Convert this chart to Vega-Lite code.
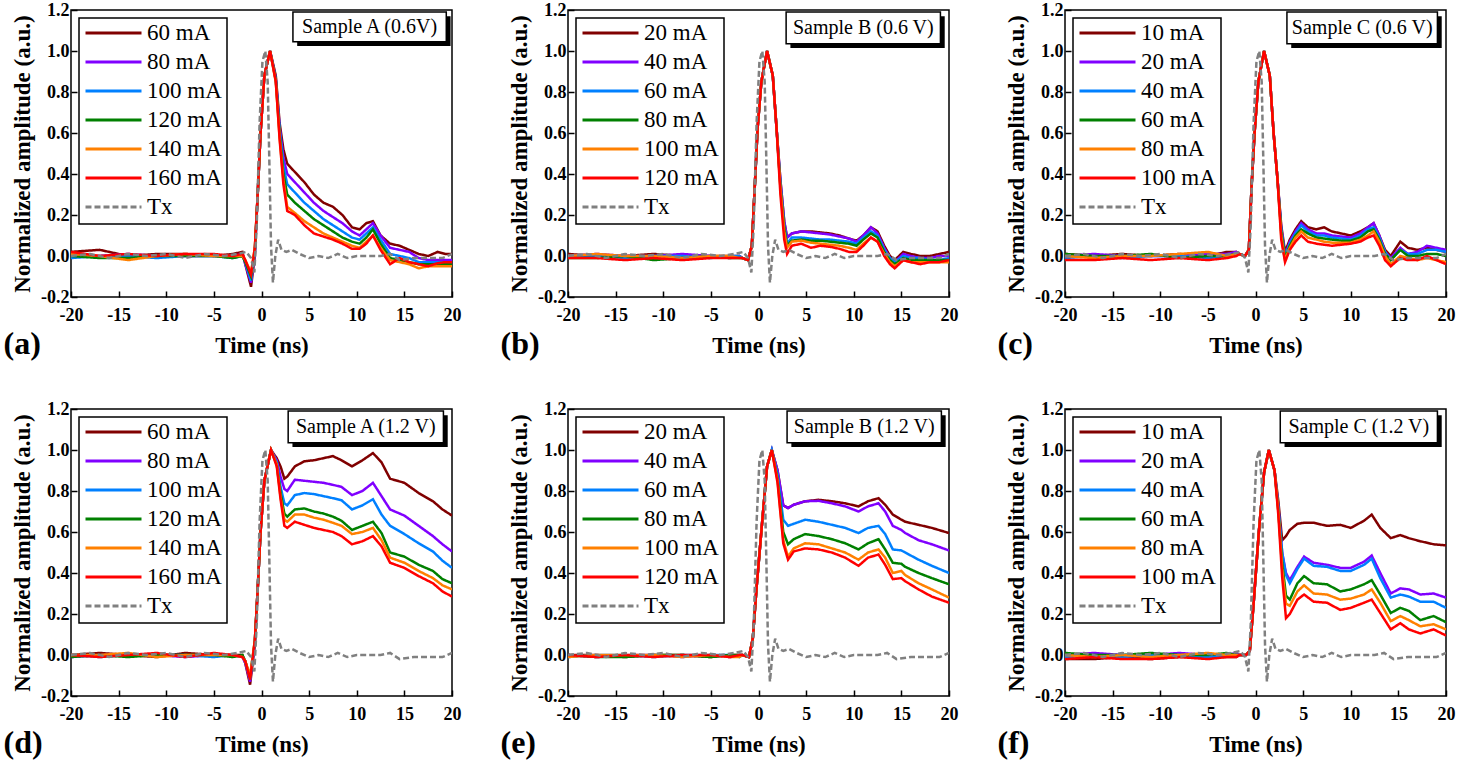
{
"$schema": "https://vega.github.io/schema/vega-lite/v6.json",
"padding": {"left": 2, "top": 0, "right": 2, "bottom": 2},
"background": "white",
"datasets": {
"tx": [
{"s":"Tx","t":-20,"v":0},{"s":"Tx","t":-18,"v":0.01},{"s":"Tx","t":-16,"v":-0.01},{"s":"Tx","t":-14,"v":0.01},{"s":"Tx","t":-12,"v":0},{"s":"Tx","t":-10,"v":0.01},{"s":"Tx","t":-8,"v":-0.01},{"s":"Tx","t":-6,"v":0.01},{"s":"Tx","t":-4,"v":0},{"s":"Tx","t":-2.5,"v":0.01},{"s":"Tx","t":-1.6,"v":0.02},{"s":"Tx","t":-1.1,"v":-0.01},{"s":"Tx","t":-0.75,"v":-0.08},{"s":"Tx","t":-0.5,"v":0.15},{"s":"Tx","t":-0.2,"v":0.65},{"s":"Tx","t":0.1,"v":0.95},{"s":"Tx","t":0.4,"v":1},{"s":"Tx","t":0.65,"v":0.85},{"s":"Tx","t":0.85,"v":0.4},{"s":"Tx","t":1,"v":0.05},{"s":"Tx","t":1.2,"v":-0.13},{"s":"Tx","t":1.45,"v":0},{"s":"Tx","t":1.75,"v":0.08},{"s":"Tx","t":2.1,"v":0.03},{"s":"Tx","t":2.6,"v":0.02},{"s":"Tx","t":3.2,"v":0.03},{"s":"Tx","t":4,"v":0.01},{"s":"Tx","t":5,"v":-0.01},{"s":"Tx","t":6,"v":0},{"s":"Tx","t":7,"v":-0.01},{"s":"Tx","t":8,"v":0.01},{"s":"Tx","t":9,"v":-0.01},{"s":"Tx","t":10,"v":0},{"s":"Tx","t":11,"v":0},{"s":"Tx","t":12.5,"v":0},{"s":"Tx","t":13.5,"v":0.01},{"s":"Tx","t":14.5,"v":-0.02},{"s":"Tx","t":16,"v":-0.01},{"s":"Tx","t":17.5,"v":-0.01},{"s":"Tx","t":19,"v":-0.01},{"s":"Tx","t":20,"v":0.01}
],
"a": [
{"s":"60 mA","t":-20,"v":0.02},{"s":"60 mA","t":-17,"v":0.03},{"s":"60 mA","t":-14,"v":0},{"s":"60 mA","t":-11,"v":0.01},{"s":"60 mA","t":-8,"v":0.01},{"s":"60 mA","t":-5,"v":0},{"s":"60 mA","t":-3,"v":0.01},{"s":"60 mA","t":-2,"v":0.02},
{"s":"60 mA","t":-1.7,"v":-0.04},{"s":"60 mA","t":-1.1,"v":-0.15},{"s":"60 mA","t":-0.7,"v":0},{"s":"60 mA","t":-0.4,"v":0.3},{"s":"60 mA","t":-0.1,"v":0.6},{"s":"60 mA","t":0.3,"v":0.88},{"s":"60 mA","t":0.9,"v":1},{"s":"60 mA","t":1.5,"v":0.88},{"s":"60 mA","t":1.9,"v":0.65},{"s":"60 mA","t":2.3,"v":0.52},{"s":"60 mA","t":2.7,"v":0.45},
{"s":"60 mA","t":3.5,"v":0.41},{"s":"60 mA","t":4.5,"v":0.36},{"s":"60 mA","t":5.5,"v":0.3},{"s":"60 mA","t":6.5,"v":0.26},{"s":"60 mA","t":7.5,"v":0.24},{"s":"60 mA","t":8.5,"v":0.2},{"s":"60 mA","t":9.5,"v":0.14},{"s":"60 mA","t":10.3,"v":0.13},{"s":"60 mA","t":11,"v":0.16},{"s":"60 mA","t":11.7,"v":0.17},{"s":"60 mA","t":12.5,"v":0.1},{"s":"60 mA","t":13.5,"v":0.06},{"s":"60 mA","t":14.5,"v":0.05},{"s":"60 mA","t":15.5,"v":0.03},{"s":"60 mA","t":16.5,"v":0.01},{"s":"60 mA","t":17.5,"v":0},{"s":"60 mA","t":18.5,"v":0.02},{"s":"60 mA","t":19.3,"v":0.01},{"s":"60 mA","t":20,"v":0.01},
{"s":"80 mA","t":-20,"v":0},{"s":"80 mA","t":-17,"v":0},{"s":"80 mA","t":-14,"v":0.01},{"s":"80 mA","t":-11,"v":0},{"s":"80 mA","t":-8,"v":0},{"s":"80 mA","t":-5,"v":0},{"s":"80 mA","t":-3,"v":0},{"s":"80 mA","t":-2,"v":0.01},
{"s":"80 mA","t":-1.7,"v":-0.04},{"s":"80 mA","t":-1.1,"v":-0.13},{"s":"80 mA","t":-0.7,"v":0.01},{"s":"80 mA","t":-0.4,"v":0.3},{"s":"80 mA","t":-0.1,"v":0.6},{"s":"80 mA","t":0.3,"v":0.88},{"s":"80 mA","t":0.9,"v":1},{"s":"80 mA","t":1.5,"v":0.87},{"s":"80 mA","t":1.9,"v":0.63},{"s":"80 mA","t":2.3,"v":0.48},{"s":"80 mA","t":2.7,"v":0.4},
{"s":"80 mA","t":3.5,"v":0.36},{"s":"80 mA","t":4.5,"v":0.31},{"s":"80 mA","t":5.5,"v":0.26},{"s":"80 mA","t":6.5,"v":0.22},{"s":"80 mA","t":7.5,"v":0.19},{"s":"80 mA","t":8.5,"v":0.16},{"s":"80 mA","t":9.5,"v":0.12},{"s":"80 mA","t":10.3,"v":0.1},{"s":"80 mA","t":11,"v":0.13},{"s":"80 mA","t":11.7,"v":0.16},{"s":"80 mA","t":12.5,"v":0.1},{"s":"80 mA","t":13.5,"v":0.04},{"s":"80 mA","t":14.5,"v":0.03},{"s":"80 mA","t":15.5,"v":0.02},{"s":"80 mA","t":16.5,"v":-0.01},{"s":"80 mA","t":17.5,"v":-0.02},{"s":"80 mA","t":18.5,"v":-0.02},{"s":"80 mA","t":19.3,"v":-0.02},{"s":"80 mA","t":20,"v":-0.02},
{"s":"100 mA","t":-20,"v":-0.01},{"s":"100 mA","t":-17,"v":0},{"s":"100 mA","t":-14,"v":0},{"s":"100 mA","t":-11,"v":-0.01},{"s":"100 mA","t":-8,"v":0},{"s":"100 mA","t":-5,"v":0},{"s":"100 mA","t":-3,"v":-0.01},{"s":"100 mA","t":-2,"v":0},
{"s":"100 mA","t":-1.7,"v":-0.03},{"s":"100 mA","t":-1.1,"v":-0.12},{"s":"100 mA","t":-0.7,"v":0.02},{"s":"100 mA","t":-0.4,"v":0.3},{"s":"100 mA","t":-0.1,"v":0.6},{"s":"100 mA","t":0.3,"v":0.88},{"s":"100 mA","t":0.9,"v":1},{"s":"100 mA","t":1.5,"v":0.86},{"s":"100 mA","t":1.9,"v":0.62},{"s":"100 mA","t":2.3,"v":0.44},{"s":"100 mA","t":2.7,"v":0.35},
{"s":"100 mA","t":3.5,"v":0.31},{"s":"100 mA","t":4.5,"v":0.26},{"s":"100 mA","t":5.5,"v":0.22},{"s":"100 mA","t":6.5,"v":0.18},{"s":"100 mA","t":7.5,"v":0.15},{"s":"100 mA","t":8.5,"v":0.12},{"s":"100 mA","t":9.5,"v":0.09},{"s":"100 mA","t":10.3,"v":0.08},{"s":"100 mA","t":11,"v":0.11},{"s":"100 mA","t":11.7,"v":0.14},{"s":"100 mA","t":12.5,"v":0.08},{"s":"100 mA","t":13.5,"v":0.01},{"s":"100 mA","t":14.5,"v":0},{"s":"100 mA","t":15.5,"v":-0.01},{"s":"100 mA","t":16.5,"v":-0.03},{"s":"100 mA","t":17.5,"v":-0.03},{"s":"100 mA","t":18.5,"v":-0.03},{"s":"100 mA","t":19.3,"v":-0.03},{"s":"100 mA","t":20,"v":-0.03},
{"s":"120 mA","t":-20,"v":0},{"s":"120 mA","t":-17,"v":-0.01},{"s":"120 mA","t":-14,"v":-0.01},{"s":"120 mA","t":-11,"v":0},{"s":"120 mA","t":-8,"v":0},{"s":"120 mA","t":-5,"v":0},{"s":"120 mA","t":-3,"v":-0.01},{"s":"120 mA","t":-2,"v":0},
{"s":"120 mA","t":-1.7,"v":-0.03},{"s":"120 mA","t":-1.1,"v":-0.1},{"s":"120 mA","t":-0.7,"v":0.03},{"s":"120 mA","t":-0.4,"v":0.3},{"s":"120 mA","t":-0.1,"v":0.6},{"s":"120 mA","t":0.3,"v":0.88},{"s":"120 mA","t":0.9,"v":1},{"s":"120 mA","t":1.5,"v":0.86},{"s":"120 mA","t":1.9,"v":0.6},{"s":"120 mA","t":2.3,"v":0.4},{"s":"120 mA","t":2.7,"v":0.3},
{"s":"120 mA","t":3.5,"v":0.26},{"s":"120 mA","t":4.5,"v":0.22},{"s":"120 mA","t":5.5,"v":0.18},{"s":"120 mA","t":6.5,"v":0.15},{"s":"120 mA","t":7.5,"v":0.12},{"s":"120 mA","t":8.5,"v":0.09},{"s":"120 mA","t":9.5,"v":0.07},{"s":"120 mA","t":10.3,"v":0.06},{"s":"120 mA","t":11,"v":0.09},{"s":"120 mA","t":11.7,"v":0.13},{"s":"120 mA","t":12.5,"v":0.06},{"s":"120 mA","t":13.5,"v":-0.01},{"s":"120 mA","t":14.5,"v":-0.02},{"s":"120 mA","t":15.5,"v":-0.03},{"s":"120 mA","t":16.5,"v":-0.04},{"s":"120 mA","t":17.5,"v":-0.04},{"s":"120 mA","t":18.5,"v":-0.04},{"s":"120 mA","t":19.3,"v":-0.04},{"s":"120 mA","t":20,"v":-0.04},
{"s":"140 mA","t":-20,"v":0.01},{"s":"140 mA","t":-17,"v":0},{"s":"140 mA","t":-14,"v":-0.02},{"s":"140 mA","t":-11,"v":0},{"s":"140 mA","t":-8,"v":0.01},{"s":"140 mA","t":-5,"v":0},{"s":"140 mA","t":-3,"v":0},{"s":"140 mA","t":-2,"v":0},
{"s":"140 mA","t":-1.7,"v":-0.02},{"s":"140 mA","t":-1.1,"v":-0.08},{"s":"140 mA","t":-0.7,"v":0.04},{"s":"140 mA","t":-0.4,"v":0.3},{"s":"140 mA","t":-0.1,"v":0.6},{"s":"140 mA","t":0.3,"v":0.88},{"s":"140 mA","t":0.9,"v":1},{"s":"140 mA","t":1.5,"v":0.85},{"s":"140 mA","t":1.9,"v":0.58},{"s":"140 mA","t":2.3,"v":0.37},{"s":"140 mA","t":2.7,"v":0.24},
{"s":"140 mA","t":3.5,"v":0.21},{"s":"140 mA","t":4.5,"v":0.17},{"s":"140 mA","t":5.5,"v":0.14},{"s":"140 mA","t":6.5,"v":0.11},{"s":"140 mA","t":7.5,"v":0.09},{"s":"140 mA","t":8.5,"v":0.07},{"s":"140 mA","t":9.5,"v":0.05},{"s":"140 mA","t":10.3,"v":0.04},{"s":"140 mA","t":11,"v":0.07},{"s":"140 mA","t":11.7,"v":0.1},{"s":"140 mA","t":12.5,"v":0.04},{"s":"140 mA","t":13.5,"v":-0.02},{"s":"140 mA","t":14.5,"v":-0.03},{"s":"140 mA","t":15.5,"v":-0.04},{"s":"140 mA","t":16.5,"v":-0.06},{"s":"140 mA","t":17.5,"v":-0.05},{"s":"140 mA","t":18.5,"v":-0.05},{"s":"140 mA","t":19.3,"v":-0.05},{"s":"140 mA","t":20,"v":-0.05},
{"s":"160 mA","t":-20,"v":0.02},{"s":"160 mA","t":-17,"v":0},{"s":"160 mA","t":-14,"v":0.01},{"s":"160 mA","t":-11,"v":0},{"s":"160 mA","t":-8,"v":0.01},{"s":"160 mA","t":-5,"v":0.01},{"s":"160 mA","t":-3,"v":0},{"s":"160 mA","t":-2,"v":0.01},
{"s":"160 mA","t":-1.7,"v":-0.02},{"s":"160 mA","t":-1.1,"v":-0.09},{"s":"160 mA","t":-0.7,"v":0.04},{"s":"160 mA","t":-0.4,"v":0.3},{"s":"160 mA","t":-0.1,"v":0.6},{"s":"160 mA","t":0.3,"v":0.88},{"s":"160 mA","t":0.9,"v":1},{"s":"160 mA","t":1.5,"v":0.85},{"s":"160 mA","t":1.9,"v":0.57},{"s":"160 mA","t":2.3,"v":0.35},{"s":"160 mA","t":2.7,"v":0.22},
{"s":"160 mA","t":3.5,"v":0.2},{"s":"160 mA","t":4.5,"v":0.15},{"s":"160 mA","t":5.5,"v":0.11},{"s":"160 mA","t":6.5,"v":0.095},{"s":"160 mA","t":7.5,"v":0.08},{"s":"160 mA","t":8.5,"v":0.06},{"s":"160 mA","t":9.5,"v":0.035},{"s":"160 mA","t":10.3,"v":0.035},{"s":"160 mA","t":11,"v":0.06},{"s":"160 mA","t":11.7,"v":0.1},{"s":"160 mA","t":12.5,"v":0.03},{"s":"160 mA","t":13.5,"v":-0.04},{"s":"160 mA","t":14.5,"v":-0.01},{"s":"160 mA","t":15.5,"v":-0.03},{"s":"160 mA","t":16.5,"v":-0.04},{"s":"160 mA","t":17.5,"v":-0.05},{"s":"160 mA","t":18.5,"v":-0.035},{"s":"160 mA","t":19.3,"v":-0.03},{"s":"160 mA","t":20,"v":-0.03}
],
"b": [
{"s":"20 mA","t":-20,"v":0.01},{"s":"20 mA","t":-17,"v":0},{"s":"20 mA","t":-14,"v":0},{"s":"20 mA","t":-11,"v":0.01},{"s":"20 mA","t":-8,"v":0},{"s":"20 mA","t":-5,"v":0},{"s":"20 mA","t":-3,"v":0},{"s":"20 mA","t":-2,"v":0},
{"s":"20 mA","t":-1.7,"v":-0.01},{"s":"20 mA","t":-1.1,"v":-0.02},{"s":"20 mA","t":-0.7,"v":0.05},{"s":"20 mA","t":-0.4,"v":0.33},{"s":"20 mA","t":-0.1,"v":0.62},{"s":"20 mA","t":0.3,"v":0.85},{"s":"20 mA","t":0.9,"v":1},{"s":"20 mA","t":1.5,"v":0.88},{"s":"20 mA","t":1.9,"v":0.62},{"s":"20 mA","t":2.3,"v":0.37},{"s":"20 mA","t":2.7,"v":0.17},
{"s":"20 mA","t":3,"v":0.09},{"s":"20 mA","t":3.5,"v":0.11},{"s":"20 mA","t":4.5,"v":0.12},{"s":"20 mA","t":5.5,"v":0.12},{"s":"20 mA","t":6.5,"v":0.115},{"s":"20 mA","t":7.5,"v":0.11},{"s":"20 mA","t":8.5,"v":0.1},{"s":"20 mA","t":9.5,"v":0.085},{"s":"20 mA","t":10.3,"v":0.075},{"s":"20 mA","t":11,"v":0.1},{"s":"20 mA","t":11.8,"v":0.14},{"s":"20 mA","t":12.5,"v":0.12},{"s":"20 mA","t":13.2,"v":0.05},{"s":"20 mA","t":13.8,"v":0},{"s":"20 mA","t":14.3,"v":-0.02},{"s":"20 mA","t":15.2,"v":0.02},{"s":"20 mA","t":16,"v":0.01},{"s":"20 mA","t":17,"v":0},{"s":"20 mA","t":18,"v":0},{"s":"20 mA","t":19,"v":0.01},{"s":"20 mA","t":20,"v":0.02},
{"s":"40 mA","t":-20,"v":0},{"s":"40 mA","t":-17,"v":0.01},{"s":"40 mA","t":-14,"v":0},{"s":"40 mA","t":-11,"v":0},{"s":"40 mA","t":-8,"v":0.01},{"s":"40 mA","t":-5,"v":0},{"s":"40 mA","t":-3,"v":-0.01},{"s":"40 mA","t":-2,"v":0},
{"s":"40 mA","t":-1.7,"v":-0.01},{"s":"40 mA","t":-1.1,"v":-0.02},{"s":"40 mA","t":-0.7,"v":0.05},{"s":"40 mA","t":-0.4,"v":0.33},{"s":"40 mA","t":-0.1,"v":0.62},{"s":"40 mA","t":0.3,"v":0.85},{"s":"40 mA","t":0.9,"v":1},{"s":"40 mA","t":1.5,"v":0.88},{"s":"40 mA","t":1.9,"v":0.62},{"s":"40 mA","t":2.3,"v":0.37},{"s":"40 mA","t":2.7,"v":0.17},
{"s":"40 mA","t":3,"v":0.09},{"s":"40 mA","t":3.5,"v":0.11},{"s":"40 mA","t":4.5,"v":0.12},{"s":"40 mA","t":5.5,"v":0.115},{"s":"40 mA","t":6.5,"v":0.11},{"s":"40 mA","t":7.5,"v":0.105},{"s":"40 mA","t":8.5,"v":0.095},{"s":"40 mA","t":9.5,"v":0.085},{"s":"40 mA","t":10.3,"v":0.07},{"s":"40 mA","t":11,"v":0.1},{"s":"40 mA","t":11.8,"v":0.14},{"s":"40 mA","t":12.5,"v":0.11},{"s":"40 mA","t":13.2,"v":0.04},{"s":"40 mA","t":13.8,"v":-0.01},{"s":"40 mA","t":14.3,"v":-0.03},{"s":"40 mA","t":15.2,"v":0.01},{"s":"40 mA","t":16,"v":0},{"s":"40 mA","t":17,"v":-0.01},{"s":"40 mA","t":18,"v":-0.01},{"s":"40 mA","t":19,"v":0},{"s":"40 mA","t":20,"v":0},
{"s":"60 mA","t":-20,"v":0},{"s":"60 mA","t":-17,"v":0},{"s":"60 mA","t":-14,"v":-0.01},{"s":"60 mA","t":-11,"v":0},{"s":"60 mA","t":-8,"v":0},{"s":"60 mA","t":-5,"v":-0.01},{"s":"60 mA","t":-3,"v":0},{"s":"60 mA","t":-2,"v":0},
{"s":"60 mA","t":-1.7,"v":-0.01},{"s":"60 mA","t":-1.1,"v":-0.02},{"s":"60 mA","t":-0.7,"v":0.05},{"s":"60 mA","t":-0.4,"v":0.33},{"s":"60 mA","t":-0.1,"v":0.62},{"s":"60 mA","t":0.3,"v":0.85},{"s":"60 mA","t":0.9,"v":1},{"s":"60 mA","t":1.5,"v":0.88},{"s":"60 mA","t":1.9,"v":0.62},{"s":"60 mA","t":2.3,"v":0.35},{"s":"60 mA","t":2.7,"v":0.15},
{"s":"60 mA","t":3,"v":0.06},{"s":"60 mA","t":3.5,"v":0.09},{"s":"60 mA","t":4.5,"v":0.09},{"s":"60 mA","t":5.5,"v":0.085},{"s":"60 mA","t":6.5,"v":0.08},{"s":"60 mA","t":7.5,"v":0.08},{"s":"60 mA","t":8.5,"v":0.075},{"s":"60 mA","t":9.5,"v":0.07},{"s":"60 mA","t":10.3,"v":0.06},{"s":"60 mA","t":11,"v":0.09},{"s":"60 mA","t":11.8,"v":0.12},{"s":"60 mA","t":12.5,"v":0.1},{"s":"60 mA","t":13.2,"v":0.03},{"s":"60 mA","t":13.8,"v":-0.01},{"s":"60 mA","t":14.3,"v":-0.03},{"s":"60 mA","t":15.2,"v":0},{"s":"60 mA","t":16,"v":-0.01},{"s":"60 mA","t":17,"v":-0.01},{"s":"60 mA","t":18,"v":-0.02},{"s":"60 mA","t":19,"v":-0.02},{"s":"60 mA","t":20,"v":-0.01},
{"s":"80 mA","t":-20,"v":-0.01},{"s":"80 mA","t":-17,"v":-0.01},{"s":"80 mA","t":-14,"v":0},{"s":"80 mA","t":-11,"v":-0.02},{"s":"80 mA","t":-8,"v":-0.01},{"s":"80 mA","t":-5,"v":0},{"s":"80 mA","t":-3,"v":-0.01},{"s":"80 mA","t":-2,"v":-0.01},
{"s":"80 mA","t":-1.7,"v":-0.01},{"s":"80 mA","t":-1.1,"v":-0.02},{"s":"80 mA","t":-0.7,"v":0.05},{"s":"80 mA","t":-0.4,"v":0.33},{"s":"80 mA","t":-0.1,"v":0.62},{"s":"80 mA","t":0.3,"v":0.85},{"s":"80 mA","t":0.9,"v":1},{"s":"80 mA","t":1.5,"v":0.88},{"s":"80 mA","t":1.9,"v":0.62},{"s":"80 mA","t":2.3,"v":0.34},{"s":"80 mA","t":2.7,"v":0.14},
{"s":"80 mA","t":3,"v":0.05},{"s":"80 mA","t":3.5,"v":0.075},{"s":"80 mA","t":4.5,"v":0.08},{"s":"80 mA","t":5.5,"v":0.075},{"s":"80 mA","t":6.5,"v":0.075},{"s":"80 mA","t":7.5,"v":0.07},{"s":"80 mA","t":8.5,"v":0.065},{"s":"80 mA","t":9.5,"v":0.06},{"s":"80 mA","t":10.3,"v":0.05},{"s":"80 mA","t":11,"v":0.08},{"s":"80 mA","t":11.8,"v":0.11},{"s":"80 mA","t":12.5,"v":0.09},{"s":"80 mA","t":13.2,"v":0.02},{"s":"80 mA","t":13.8,"v":-0.02},{"s":"80 mA","t":14.3,"v":-0.04},{"s":"80 mA","t":15.2,"v":-0.01},{"s":"80 mA","t":16,"v":-0.02},{"s":"80 mA","t":17,"v":-0.02},{"s":"80 mA","t":18,"v":-0.02},{"s":"80 mA","t":19,"v":-0.02},{"s":"80 mA","t":20,"v":-0.02},
{"s":"100 mA","t":-20,"v":0},{"s":"100 mA","t":-17,"v":0.01},{"s":"100 mA","t":-14,"v":0},{"s":"100 mA","t":-11,"v":0},{"s":"100 mA","t":-8,"v":-0.01},{"s":"100 mA","t":-5,"v":0},{"s":"100 mA","t":-3,"v":0},{"s":"100 mA","t":-2,"v":-0.01},
{"s":"100 mA","t":-1.7,"v":-0.01},{"s":"100 mA","t":-1.1,"v":-0.02},{"s":"100 mA","t":-0.7,"v":0.05},{"s":"100 mA","t":-0.4,"v":0.33},{"s":"100 mA","t":-0.1,"v":0.62},{"s":"100 mA","t":0.3,"v":0.85},{"s":"100 mA","t":0.9,"v":1},{"s":"100 mA","t":1.5,"v":0.88},{"s":"100 mA","t":1.9,"v":0.62},{"s":"100 mA","t":2.3,"v":0.33},{"s":"100 mA","t":2.7,"v":0.12},
{"s":"100 mA","t":3,"v":0.04},{"s":"100 mA","t":3.5,"v":0.07},{"s":"100 mA","t":4.5,"v":0.075},{"s":"100 mA","t":5.5,"v":0.065},{"s":"100 mA","t":6.5,"v":0.06},{"s":"100 mA","t":7.5,"v":0.055},{"s":"100 mA","t":8.5,"v":0.05},{"s":"100 mA","t":9.5,"v":0.04},{"s":"100 mA","t":10.3,"v":0.03},{"s":"100 mA","t":11,"v":0.06},{"s":"100 mA","t":11.8,"v":0.09},{"s":"100 mA","t":12.5,"v":0.07},{"s":"100 mA","t":13.2,"v":0.01},{"s":"100 mA","t":13.8,"v":-0.03},{"s":"100 mA","t":14.3,"v":-0.05},{"s":"100 mA","t":15.2,"v":-0.02},{"s":"100 mA","t":16,"v":-0.03},{"s":"100 mA","t":17,"v":-0.03},{"s":"100 mA","t":18,"v":-0.03},{"s":"100 mA","t":19,"v":-0.03},{"s":"100 mA","t":20,"v":-0.03},
{"s":"120 mA","t":-20,"v":-0.01},{"s":"120 mA","t":-17,"v":-0.01},{"s":"120 mA","t":-14,"v":-0.02},{"s":"120 mA","t":-11,"v":-0.01},{"s":"120 mA","t":-8,"v":-0.02},{"s":"120 mA","t":-5,"v":-0.01},{"s":"120 mA","t":-3,"v":-0.01},{"s":"120 mA","t":-2,"v":-0.01},
{"s":"120 mA","t":-1.7,"v":-0.01},{"s":"120 mA","t":-1.1,"v":-0.02},{"s":"120 mA","t":-0.7,"v":0.05},{"s":"120 mA","t":-0.4,"v":0.33},{"s":"120 mA","t":-0.1,"v":0.62},{"s":"120 mA","t":0.3,"v":0.85},{"s":"120 mA","t":0.9,"v":1},{"s":"120 mA","t":1.5,"v":0.88},{"s":"120 mA","t":1.9,"v":0.62},{"s":"120 mA","t":2.3,"v":0.3},{"s":"120 mA","t":2.7,"v":0.08},
{"s":"120 mA","t":3,"v":0.01},{"s":"120 mA","t":3.5,"v":0.05},{"s":"120 mA","t":4.5,"v":0.06},{"s":"120 mA","t":5.5,"v":0.04},{"s":"120 mA","t":6.5,"v":0.05},{"s":"120 mA","t":7.5,"v":0.045},{"s":"120 mA","t":8.5,"v":0.035},{"s":"120 mA","t":9.5,"v":0.02},{"s":"120 mA","t":10.3,"v":0.02},{"s":"120 mA","t":11,"v":0.05},{"s":"120 mA","t":11.8,"v":0.09},{"s":"120 mA","t":12.5,"v":0.07},{"s":"120 mA","t":13.2,"v":0},{"s":"120 mA","t":13.8,"v":-0.04},{"s":"120 mA","t":14.3,"v":-0.06},{"s":"120 mA","t":15.2,"v":-0.02},{"s":"120 mA","t":16,"v":-0.03},{"s":"120 mA","t":17,"v":-0.04},{"s":"120 mA","t":18,"v":-0.03},{"s":"120 mA","t":19,"v":-0.03},{"s":"120 mA","t":20,"v":-0.02}
],
"c": [
{"s":"10 mA","t":-20,"v":0.01},{"s":"10 mA","t":-17,"v":0},{"s":"10 mA","t":-14,"v":0.01},{"s":"10 mA","t":-11,"v":0},{"s":"10 mA","t":-8,"v":0.01},{"s":"10 mA","t":-5,"v":0},{"s":"10 mA","t":-3,"v":0.02},{"s":"10 mA","t":-2,"v":0.02},
{"s":"10 mA","t":-1.7,"v":0.01},{"s":"10 mA","t":-1.1,"v":0},{"s":"10 mA","t":-0.7,"v":0.03},{"s":"10 mA","t":-0.4,"v":0.35},{"s":"10 mA","t":-0.1,"v":0.6},{"s":"10 mA","t":0.3,"v":0.85},{"s":"10 mA","t":0.9,"v":1},{"s":"10 mA","t":1.5,"v":0.88},{"s":"10 mA","t":1.9,"v":0.6},{"s":"10 mA","t":2.3,"v":0.38},{"s":"10 mA","t":2.7,"v":0.15},
{"s":"10 mA","t":3.1,"v":0.02},{"s":"10 mA","t":3.6,"v":0.08},{"s":"10 mA","t":4.2,"v":0.13},{"s":"10 mA","t":4.8,"v":0.17},{"s":"10 mA","t":5.5,"v":0.14},{"s":"10 mA","t":6.4,"v":0.13},{"s":"10 mA","t":7.2,"v":0.14},{"s":"10 mA","t":8,"v":0.12},{"s":"10 mA","t":9,"v":0.11},{"s":"10 mA","t":10,"v":0.1},{"s":"10 mA","t":11,"v":0.12},{"s":"10 mA","t":11.8,"v":0.14},{"s":"10 mA","t":12.4,"v":0.16},{"s":"10 mA","t":13,"v":0.1},{"s":"10 mA","t":13.6,"v":0.03},{"s":"10 mA","t":14.2,"v":0},{"s":"10 mA","t":15.2,"v":0.07},{"s":"10 mA","t":16,"v":0.04},{"s":"10 mA","t":17,"v":0.03},{"s":"10 mA","t":18,"v":0.04},{"s":"10 mA","t":19,"v":0.03},{"s":"10 mA","t":20,"v":0.02},
{"s":"20 mA","t":-20,"v":0},{"s":"20 mA","t":-17,"v":0.01},{"s":"20 mA","t":-14,"v":0},{"s":"20 mA","t":-11,"v":0},{"s":"20 mA","t":-8,"v":0},{"s":"20 mA","t":-5,"v":0.01},{"s":"20 mA","t":-3,"v":0.01},{"s":"20 mA","t":-2,"v":0.02},
{"s":"20 mA","t":-1.7,"v":0.01},{"s":"20 mA","t":-1.1,"v":0},{"s":"20 mA","t":-0.7,"v":0.03},{"s":"20 mA","t":-0.4,"v":0.35},{"s":"20 mA","t":-0.1,"v":0.6},{"s":"20 mA","t":0.3,"v":0.85},{"s":"20 mA","t":0.9,"v":1},{"s":"20 mA","t":1.5,"v":0.88},{"s":"20 mA","t":1.9,"v":0.6},{"s":"20 mA","t":2.3,"v":0.38},{"s":"20 mA","t":2.7,"v":0.14},
{"s":"20 mA","t":3.1,"v":0},{"s":"20 mA","t":3.6,"v":0.07},{"s":"20 mA","t":4.2,"v":0.12},{"s":"20 mA","t":4.8,"v":0.16},{"s":"20 mA","t":5.5,"v":0.13},{"s":"20 mA","t":6.4,"v":0.11},{"s":"20 mA","t":7.2,"v":0.11},{"s":"20 mA","t":8,"v":0.1},{"s":"20 mA","t":9,"v":0.095},{"s":"20 mA","t":10,"v":0.09},{"s":"20 mA","t":11,"v":0.11},{"s":"20 mA","t":11.8,"v":0.14},{"s":"20 mA","t":12.4,"v":0.16},{"s":"20 mA","t":13,"v":0.1},{"s":"20 mA","t":13.6,"v":0.02},{"s":"20 mA","t":14.2,"v":-0.01},{"s":"20 mA","t":15.2,"v":0.04},{"s":"20 mA","t":16,"v":0.01},{"s":"20 mA","t":17,"v":0.02},{"s":"20 mA","t":18,"v":0.05},{"s":"20 mA","t":19,"v":0.04},{"s":"20 mA","t":20,"v":0.03},
{"s":"40 mA","t":-20,"v":-0.01},{"s":"40 mA","t":-17,"v":0},{"s":"40 mA","t":-14,"v":-0.01},{"s":"40 mA","t":-11,"v":0},{"s":"40 mA","t":-8,"v":0},{"s":"40 mA","t":-5,"v":-0.01},{"s":"40 mA","t":-3,"v":0},{"s":"40 mA","t":-2,"v":0.01},
{"s":"40 mA","t":-1.7,"v":0.01},{"s":"40 mA","t":-1.1,"v":0},{"s":"40 mA","t":-0.7,"v":0.03},{"s":"40 mA","t":-0.4,"v":0.35},{"s":"40 mA","t":-0.1,"v":0.6},{"s":"40 mA","t":0.3,"v":0.85},{"s":"40 mA","t":0.9,"v":1},{"s":"40 mA","t":1.5,"v":0.88},{"s":"40 mA","t":1.9,"v":0.6},{"s":"40 mA","t":2.3,"v":0.38},{"s":"40 mA","t":2.7,"v":0.13},
{"s":"40 mA","t":3.1,"v":0},{"s":"40 mA","t":3.6,"v":0.06},{"s":"40 mA","t":4.2,"v":0.11},{"s":"40 mA","t":4.8,"v":0.15},{"s":"40 mA","t":5.5,"v":0.12},{"s":"40 mA","t":6.4,"v":0.1},{"s":"40 mA","t":7.2,"v":0.1},{"s":"40 mA","t":8,"v":0.09},{"s":"40 mA","t":9,"v":0.085},{"s":"40 mA","t":10,"v":0.08},{"s":"40 mA","t":11,"v":0.1},{"s":"40 mA","t":11.8,"v":0.13},{"s":"40 mA","t":12.4,"v":0.14},{"s":"40 mA","t":13,"v":0.09},{"s":"40 mA","t":13.6,"v":0.02},{"s":"40 mA","t":14.2,"v":-0.02},{"s":"40 mA","t":15.2,"v":0.03},{"s":"40 mA","t":16,"v":0.01},{"s":"40 mA","t":17,"v":0.01},{"s":"40 mA","t":18,"v":0.03},{"s":"40 mA","t":19,"v":0.03},{"s":"40 mA","t":20,"v":0.02},
{"s":"60 mA","t":-20,"v":0.01},{"s":"60 mA","t":-17,"v":0},{"s":"60 mA","t":-14,"v":0},{"s":"60 mA","t":-11,"v":0.01},{"s":"60 mA","t":-8,"v":-0.01},{"s":"60 mA","t":-5,"v":0},{"s":"60 mA","t":-3,"v":0},{"s":"60 mA","t":-2,"v":0.01},
{"s":"60 mA","t":-1.7,"v":0.01},{"s":"60 mA","t":-1.1,"v":0},{"s":"60 mA","t":-0.7,"v":0.03},{"s":"60 mA","t":-0.4,"v":0.35},{"s":"60 mA","t":-0.1,"v":0.6},{"s":"60 mA","t":0.3,"v":0.85},{"s":"60 mA","t":0.9,"v":1},{"s":"60 mA","t":1.5,"v":0.88},{"s":"60 mA","t":1.9,"v":0.6},{"s":"60 mA","t":2.3,"v":0.38},{"s":"60 mA","t":2.7,"v":0.12},
{"s":"60 mA","t":3.1,"v":-0.01},{"s":"60 mA","t":3.6,"v":0.05},{"s":"60 mA","t":4.2,"v":0.1},{"s":"60 mA","t":4.8,"v":0.13},{"s":"60 mA","t":5.5,"v":0.11},{"s":"60 mA","t":6.4,"v":0.09},{"s":"60 mA","t":7.2,"v":0.085},{"s":"60 mA","t":8,"v":0.08},{"s":"60 mA","t":9,"v":0.075},{"s":"60 mA","t":10,"v":0.075},{"s":"60 mA","t":11,"v":0.09},{"s":"60 mA","t":11.8,"v":0.12},{"s":"60 mA","t":12.4,"v":0.13},{"s":"60 mA","t":13,"v":0.08},{"s":"60 mA","t":13.6,"v":0.01},{"s":"60 mA","t":14.2,"v":-0.02},{"s":"60 mA","t":15.2,"v":0.03},{"s":"60 mA","t":16,"v":0},{"s":"60 mA","t":17,"v":0},{"s":"60 mA","t":18,"v":0.01},{"s":"60 mA","t":19,"v":0.01},{"s":"60 mA","t":20,"v":0},
{"s":"80 mA","t":-20,"v":0},{"s":"80 mA","t":-17,"v":-0.01},{"s":"80 mA","t":-14,"v":0},{"s":"80 mA","t":-11,"v":0},{"s":"80 mA","t":-8,"v":0.01},{"s":"80 mA","t":-5,"v":0.02},{"s":"80 mA","t":-3,"v":0},{"s":"80 mA","t":-2,"v":0.01},
{"s":"80 mA","t":-1.7,"v":0.01},{"s":"80 mA","t":-1.1,"v":0},{"s":"80 mA","t":-0.7,"v":0.03},{"s":"80 mA","t":-0.4,"v":0.35},{"s":"80 mA","t":-0.1,"v":0.6},{"s":"80 mA","t":0.3,"v":0.85},{"s":"80 mA","t":0.9,"v":1},{"s":"80 mA","t":1.5,"v":0.88},{"s":"80 mA","t":1.9,"v":0.6},{"s":"80 mA","t":2.3,"v":0.38},{"s":"80 mA","t":2.7,"v":0.1},
{"s":"80 mA","t":3.1,"v":-0.02},{"s":"80 mA","t":3.6,"v":0.04},{"s":"80 mA","t":4.2,"v":0.09},{"s":"80 mA","t":4.8,"v":0.12},{"s":"80 mA","t":5.5,"v":0.09},{"s":"80 mA","t":6.4,"v":0.08},{"s":"80 mA","t":7.2,"v":0.07},{"s":"80 mA","t":8,"v":0.065},{"s":"80 mA","t":9,"v":0.065},{"s":"80 mA","t":10,"v":0.065},{"s":"80 mA","t":11,"v":0.08},{"s":"80 mA","t":11.8,"v":0.1},{"s":"80 mA","t":12.4,"v":0.12},{"s":"80 mA","t":13,"v":0.07},{"s":"80 mA","t":13.6,"v":0},{"s":"80 mA","t":14.2,"v":-0.04},{"s":"80 mA","t":15.2,"v":0},{"s":"80 mA","t":16,"v":-0.01},{"s":"80 mA","t":17,"v":-0.02},{"s":"80 mA","t":18,"v":-0.01},{"s":"80 mA","t":19,"v":-0.02},{"s":"80 mA","t":20,"v":-0.03},
{"s":"100 mA","t":-20,"v":-0.02},{"s":"100 mA","t":-17,"v":-0.02},{"s":"100 mA","t":-14,"v":-0.01},{"s":"100 mA","t":-11,"v":-0.02},{"s":"100 mA","t":-8,"v":-0.01},{"s":"100 mA","t":-5,"v":-0.02},{"s":"100 mA","t":-3,"v":-0.01},{"s":"100 mA","t":-2,"v":0},
{"s":"100 mA","t":-1.7,"v":0.01},{"s":"100 mA","t":-1.1,"v":0},{"s":"100 mA","t":-0.7,"v":0.03},{"s":"100 mA","t":-0.4,"v":0.35},{"s":"100 mA","t":-0.1,"v":0.6},{"s":"100 mA","t":0.3,"v":0.85},{"s":"100 mA","t":0.9,"v":1},{"s":"100 mA","t":1.5,"v":0.88},{"s":"100 mA","t":1.9,"v":0.6},{"s":"100 mA","t":2.3,"v":0.38},{"s":"100 mA","t":2.7,"v":0.08},
{"s":"100 mA","t":3.1,"v":-0.03},{"s":"100 mA","t":3.6,"v":0.03},{"s":"100 mA","t":4.2,"v":0.07},{"s":"100 mA","t":4.8,"v":0.1},{"s":"100 mA","t":5.5,"v":0.07},{"s":"100 mA","t":6.4,"v":0.06},{"s":"100 mA","t":7.2,"v":0.055},{"s":"100 mA","t":8,"v":0.05},{"s":"100 mA","t":9,"v":0.055},{"s":"100 mA","t":10,"v":0.06},{"s":"100 mA","t":11,"v":0.07},{"s":"100 mA","t":11.8,"v":0.09},{"s":"100 mA","t":12.4,"v":0.1},{"s":"100 mA","t":13,"v":0.05},{"s":"100 mA","t":13.6,"v":-0.02},{"s":"100 mA","t":14.2,"v":-0.05},{"s":"100 mA","t":15.2,"v":-0.01},{"s":"100 mA","t":16,"v":-0.02},{"s":"100 mA","t":17,"v":-0.02},{"s":"100 mA","t":18,"v":0},{"s":"100 mA","t":19,"v":-0.02},{"s":"100 mA","t":20,"v":-0.04}
],
"d": [
{"s":"60 mA","t":-20,"v":0},{"s":"60 mA","t":-17,"v":0.01},{"s":"60 mA","t":-14,"v":0},{"s":"60 mA","t":-11,"v":-0.01},{"s":"60 mA","t":-8,"v":0.01},{"s":"60 mA","t":-5,"v":0},{"s":"60 mA","t":-3,"v":0},{"s":"60 mA","t":-2,"v":0},
{"s":"60 mA","t":-1.7,"v":-0.04},{"s":"60 mA","t":-1.2,"v":-0.145},{"s":"60 mA","t":-0.7,"v":0.05},{"s":"60 mA","t":-0.4,"v":0.32},{"s":"60 mA","t":-0.1,"v":0.6},{"s":"60 mA","t":0.3,"v":0.85},{"s":"60 mA","t":1,"v":1},{"s":"60 mA","t":1.6,"v":0.96},{"s":"60 mA","t":2,"v":0.92},{"s":"60 mA","t":2.4,"v":0.86},
{"s":"60 mA","t":2.7,"v":0.87},{"s":"60 mA","t":3.5,"v":0.92},{"s":"60 mA","t":4.5,"v":0.945},{"s":"60 mA","t":5.5,"v":0.95},{"s":"60 mA","t":6.5,"v":0.96},{"s":"60 mA","t":7.5,"v":0.97},{"s":"60 mA","t":8.4,"v":0.95},{"s":"60 mA","t":9.5,"v":0.92},{"s":"60 mA","t":10.6,"v":0.95},{"s":"60 mA","t":11.7,"v":0.985},{"s":"60 mA","t":12.6,"v":0.94},{"s":"60 mA","t":13.5,"v":0.86},{"s":"60 mA","t":15,"v":0.84},{"s":"60 mA","t":16.5,"v":0.79},{"s":"60 mA","t":18,"v":0.75},{"s":"60 mA","t":19,"v":0.71},{"s":"60 mA","t":20,"v":0.68},
{"s":"80 mA","t":-20,"v":-0.01},{"s":"80 mA","t":-17,"v":0},{"s":"80 mA","t":-14,"v":0},{"s":"80 mA","t":-11,"v":0},{"s":"80 mA","t":-8,"v":-0.01},{"s":"80 mA","t":-5,"v":0},{"s":"80 mA","t":-3,"v":0},{"s":"80 mA","t":-2,"v":-0.01},
{"s":"80 mA","t":-1.7,"v":-0.04},{"s":"80 mA","t":-1.2,"v":-0.13},{"s":"80 mA","t":-0.7,"v":0.06},{"s":"80 mA","t":-0.4,"v":0.32},{"s":"80 mA","t":-0.1,"v":0.6},{"s":"80 mA","t":0.3,"v":0.85},{"s":"80 mA","t":1,"v":1},{"s":"80 mA","t":1.6,"v":0.95},{"s":"80 mA","t":2,"v":0.87},{"s":"80 mA","t":2.4,"v":0.81},
{"s":"80 mA","t":2.7,"v":0.8},{"s":"80 mA","t":3.5,"v":0.855},{"s":"80 mA","t":4.5,"v":0.85},{"s":"80 mA","t":5.5,"v":0.845},{"s":"80 mA","t":6.5,"v":0.84},{"s":"80 mA","t":7.5,"v":0.83},{"s":"80 mA","t":8.4,"v":0.82},{"s":"80 mA","t":9.5,"v":0.78},{"s":"80 mA","t":10.6,"v":0.8},{"s":"80 mA","t":11.7,"v":0.84},{"s":"80 mA","t":12.6,"v":0.775},{"s":"80 mA","t":13.5,"v":0.71},{"s":"80 mA","t":15,"v":0.68},{"s":"80 mA","t":16.5,"v":0.63},{"s":"80 mA","t":18,"v":0.58},{"s":"80 mA","t":19,"v":0.54},{"s":"80 mA","t":20,"v":0.505},
{"s":"100 mA","t":-20,"v":0},{"s":"100 mA","t":-17,"v":-0.01},{"s":"100 mA","t":-14,"v":0},{"s":"100 mA","t":-11,"v":0},{"s":"100 mA","t":-8,"v":0},{"s":"100 mA","t":-5,"v":-0.01},{"s":"100 mA","t":-3,"v":0},{"s":"100 mA","t":-2,"v":-0.01},
{"s":"100 mA","t":-1.7,"v":-0.03},{"s":"100 mA","t":-1.2,"v":-0.12},{"s":"100 mA","t":-0.7,"v":0.06},{"s":"100 mA","t":-0.4,"v":0.32},{"s":"100 mA","t":-0.1,"v":0.6},{"s":"100 mA","t":0.3,"v":0.85},{"s":"100 mA","t":1,"v":1},{"s":"100 mA","t":1.6,"v":0.94},{"s":"100 mA","t":2,"v":0.82},{"s":"100 mA","t":2.4,"v":0.74},
{"s":"100 mA","t":2.7,"v":0.73},{"s":"100 mA","t":3.5,"v":0.78},{"s":"100 mA","t":4.5,"v":0.79},{"s":"100 mA","t":5.5,"v":0.785},{"s":"100 mA","t":6.5,"v":0.775},{"s":"100 mA","t":7.5,"v":0.765},{"s":"100 mA","t":8.4,"v":0.755},{"s":"100 mA","t":9.5,"v":0.71},{"s":"100 mA","t":10.6,"v":0.73},{"s":"100 mA","t":11.7,"v":0.76},{"s":"100 mA","t":12.6,"v":0.685},{"s":"100 mA","t":13.5,"v":0.63},{"s":"100 mA","t":15,"v":0.59},{"s":"100 mA","t":16.5,"v":0.545},{"s":"100 mA","t":18,"v":0.505},{"s":"100 mA","t":19,"v":0.46},{"s":"100 mA","t":20,"v":0.425},
{"s":"120 mA","t":-20,"v":-0.01},{"s":"120 mA","t":-17,"v":0},{"s":"120 mA","t":-14,"v":-0.01},{"s":"120 mA","t":-11,"v":0},{"s":"120 mA","t":-8,"v":0},{"s":"120 mA","t":-5,"v":0},{"s":"120 mA","t":-3,"v":-0.01},{"s":"120 mA","t":-2,"v":0},
{"s":"120 mA","t":-1.7,"v":-0.03},{"s":"120 mA","t":-1.2,"v":-0.11},{"s":"120 mA","t":-0.7,"v":0.07},{"s":"120 mA","t":-0.4,"v":0.32},{"s":"120 mA","t":-0.1,"v":0.6},{"s":"120 mA","t":0.3,"v":0.85},{"s":"120 mA","t":1,"v":1},{"s":"120 mA","t":1.6,"v":0.93},{"s":"120 mA","t":2,"v":0.79},{"s":"120 mA","t":2.4,"v":0.69},
{"s":"120 mA","t":2.7,"v":0.675},{"s":"120 mA","t":3.5,"v":0.71},{"s":"120 mA","t":4.5,"v":0.715},{"s":"120 mA","t":5.5,"v":0.7},{"s":"120 mA","t":6.5,"v":0.69},{"s":"120 mA","t":7.5,"v":0.675},{"s":"120 mA","t":8.4,"v":0.655},{"s":"120 mA","t":9.5,"v":0.61},{"s":"120 mA","t":10.6,"v":0.63},{"s":"120 mA","t":11.7,"v":0.65},{"s":"120 mA","t":12.6,"v":0.595},{"s":"120 mA","t":13.5,"v":0.5},{"s":"120 mA","t":15,"v":0.48},{"s":"120 mA","t":16.5,"v":0.44},{"s":"120 mA","t":18,"v":0.41},{"s":"120 mA","t":19,"v":0.37},{"s":"120 mA","t":20,"v":0.35},
{"s":"140 mA","t":-20,"v":0},{"s":"140 mA","t":-17,"v":0},{"s":"140 mA","t":-14,"v":0.01},{"s":"140 mA","t":-11,"v":-0.01},{"s":"140 mA","t":-8,"v":0},{"s":"140 mA","t":-5,"v":0},{"s":"140 mA","t":-3,"v":0},{"s":"140 mA","t":-2,"v":-0.01},
{"s":"140 mA","t":-1.7,"v":-0.03},{"s":"140 mA","t":-1.2,"v":-0.1},{"s":"140 mA","t":-0.7,"v":0.07},{"s":"140 mA","t":-0.4,"v":0.32},{"s":"140 mA","t":-0.1,"v":0.6},{"s":"140 mA","t":0.3,"v":0.85},{"s":"140 mA","t":1,"v":1},{"s":"140 mA","t":1.6,"v":0.93},{"s":"140 mA","t":2,"v":0.77},{"s":"140 mA","t":2.4,"v":0.66},
{"s":"140 mA","t":2.7,"v":0.65},{"s":"140 mA","t":3.5,"v":0.685},{"s":"140 mA","t":4.5,"v":0.685},{"s":"140 mA","t":5.5,"v":0.67},{"s":"140 mA","t":6.5,"v":0.66},{"s":"140 mA","t":7.5,"v":0.645},{"s":"140 mA","t":8.4,"v":0.63},{"s":"140 mA","t":9.5,"v":0.59},{"s":"140 mA","t":10.6,"v":0.6},{"s":"140 mA","t":11.7,"v":0.62},{"s":"140 mA","t":12.6,"v":0.56},{"s":"140 mA","t":13.5,"v":0.475},{"s":"140 mA","t":15,"v":0.45},{"s":"140 mA","t":16.5,"v":0.41},{"s":"140 mA","t":18,"v":0.375},{"s":"140 mA","t":19,"v":0.34},{"s":"140 mA","t":20,"v":0.32},
{"s":"160 mA","t":-20,"v":0},{"s":"160 mA","t":-17,"v":-0.01},{"s":"160 mA","t":-14,"v":0},{"s":"160 mA","t":-11,"v":0.01},{"s":"160 mA","t":-8,"v":-0.01},{"s":"160 mA","t":-5,"v":0.01},{"s":"160 mA","t":-3,"v":0},{"s":"160 mA","t":-2,"v":-0.01},
{"s":"160 mA","t":-1.7,"v":-0.03},{"s":"160 mA","t":-1.2,"v":-0.12},{"s":"160 mA","t":-0.7,"v":0.07},{"s":"160 mA","t":-0.4,"v":0.32},{"s":"160 mA","t":-0.1,"v":0.6},{"s":"160 mA","t":0.3,"v":0.85},{"s":"160 mA","t":1,"v":1},{"s":"160 mA","t":1.6,"v":0.92},{"s":"160 mA","t":2,"v":0.76},{"s":"160 mA","t":2.4,"v":0.63},
{"s":"160 mA","t":2.7,"v":0.62},{"s":"160 mA","t":3.5,"v":0.65},{"s":"160 mA","t":4.5,"v":0.635},{"s":"160 mA","t":5.5,"v":0.62},{"s":"160 mA","t":6.5,"v":0.61},{"s":"160 mA","t":7.5,"v":0.6},{"s":"160 mA","t":8.4,"v":0.58},{"s":"160 mA","t":9.5,"v":0.54},{"s":"160 mA","t":10.6,"v":0.555},{"s":"160 mA","t":11.7,"v":0.58},{"s":"160 mA","t":12.6,"v":0.53},{"s":"160 mA","t":13.5,"v":0.45},{"s":"160 mA","t":15,"v":0.425},{"s":"160 mA","t":16.5,"v":0.385},{"s":"160 mA","t":18,"v":0.35},{"s":"160 mA","t":19,"v":0.31},{"s":"160 mA","t":20,"v":0.285}
],
"e": [
{"s":"20 mA","t":-20,"v":0},{"s":"20 mA","t":-17,"v":0},{"s":"20 mA","t":-14,"v":-0.01},{"s":"20 mA","t":-11,"v":0},{"s":"20 mA","t":-8,"v":0},{"s":"20 mA","t":-5,"v":-0.01},{"s":"20 mA","t":-3,"v":0},{"s":"20 mA","t":-2,"v":0},
{"s":"20 mA","t":-1.7,"v":0},{"s":"20 mA","t":-1,"v":-0.01},{"s":"20 mA","t":-0.6,"v":0.08},{"s":"20 mA","t":-0.2,"v":0.33},{"s":"20 mA","t":0.35,"v":0.63},{"s":"20 mA","t":0.9,"v":0.92},{"s":"20 mA","t":1.4,"v":1},{"s":"20 mA","t":2,"v":0.9},{"s":"20 mA","t":2.6,"v":0.73},
{"s":"20 mA","t":3.1,"v":0.717},{"s":"20 mA","t":3.7,"v":0.733},{"s":"20 mA","t":4.9,"v":0.75},{"s":"20 mA","t":6.3,"v":0.757},{"s":"20 mA","t":7.7,"v":0.75},{"s":"20 mA","t":9.1,"v":0.74},{"s":"20 mA","t":10.5,"v":0.725},{"s":"20 mA","t":11.5,"v":0.75},{"s":"20 mA","t":12.6,"v":0.765},{"s":"20 mA","t":13.3,"v":0.733},{"s":"20 mA","t":14.1,"v":0.685},{"s":"20 mA","t":15,"v":0.66},{"s":"20 mA","t":15.4,"v":0.65},{"s":"20 mA","t":16.8,"v":0.635},{"s":"20 mA","t":18.2,"v":0.62},{"s":"20 mA","t":20,"v":0.595},
{"s":"40 mA","t":-20,"v":0},{"s":"40 mA","t":-17,"v":-0.01},{"s":"40 mA","t":-14,"v":0},{"s":"40 mA","t":-11,"v":0},{"s":"40 mA","t":-8,"v":-0.01},{"s":"40 mA","t":-5,"v":0},{"s":"40 mA","t":-3,"v":-0.01},{"s":"40 mA","t":-2,"v":0},
{"s":"40 mA","t":-1.7,"v":0},{"s":"40 mA","t":-1,"v":-0.01},{"s":"40 mA","t":-0.6,"v":0.08},{"s":"40 mA","t":-0.2,"v":0.33},{"s":"40 mA","t":0.35,"v":0.63},{"s":"40 mA","t":0.9,"v":0.92},{"s":"40 mA","t":1.4,"v":1},{"s":"40 mA","t":2,"v":0.9},{"s":"40 mA","t":2.6,"v":0.73},
{"s":"40 mA","t":3.1,"v":0.717},{"s":"40 mA","t":3.7,"v":0.733},{"s":"40 mA","t":4.9,"v":0.75},{"s":"40 mA","t":6.3,"v":0.752},{"s":"40 mA","t":7.7,"v":0.74},{"s":"40 mA","t":9.1,"v":0.725},{"s":"40 mA","t":10.5,"v":0.7},{"s":"40 mA","t":11.5,"v":0.725},{"s":"40 mA","t":12.6,"v":0.74},{"s":"40 mA","t":13.3,"v":0.7},{"s":"40 mA","t":14.1,"v":0.63},{"s":"40 mA","t":15,"v":0.61},{"s":"40 mA","t":15.4,"v":0.595},{"s":"40 mA","t":16.8,"v":0.56},{"s":"40 mA","t":18.2,"v":0.54},{"s":"40 mA","t":20,"v":0.51},
{"s":"60 mA","t":-20,"v":-0.01},{"s":"60 mA","t":-17,"v":0},{"s":"60 mA","t":-14,"v":0},{"s":"60 mA","t":-11,"v":-0.01},{"s":"60 mA","t":-8,"v":0},{"s":"60 mA","t":-5,"v":0},{"s":"60 mA","t":-3,"v":0},{"s":"60 mA","t":-2,"v":-0.01},
{"s":"60 mA","t":-1.7,"v":0},{"s":"60 mA","t":-1,"v":-0.01},{"s":"60 mA","t":-0.6,"v":0.08},{"s":"60 mA","t":-0.2,"v":0.33},{"s":"60 mA","t":0.35,"v":0.63},{"s":"60 mA","t":0.9,"v":0.92},{"s":"60 mA","t":1.4,"v":1},{"s":"60 mA","t":2,"v":0.88},{"s":"60 mA","t":2.6,"v":0.66},
{"s":"60 mA","t":3.1,"v":0.63},{"s":"60 mA","t":3.7,"v":0.64},{"s":"60 mA","t":4.9,"v":0.66},{"s":"60 mA","t":6.3,"v":0.65},{"s":"60 mA","t":7.7,"v":0.635},{"s":"60 mA","t":9.1,"v":0.62},{"s":"60 mA","t":10.5,"v":0.595},{"s":"60 mA","t":11.5,"v":0.62},{"s":"60 mA","t":12.6,"v":0.63},{"s":"60 mA","t":13.3,"v":0.59},{"s":"60 mA","t":14.1,"v":0.515},{"s":"60 mA","t":15,"v":0.51},{"s":"60 mA","t":15.4,"v":0.5},{"s":"60 mA","t":16.8,"v":0.465},{"s":"60 mA","t":18.2,"v":0.435},{"s":"60 mA","t":20,"v":0.4},
{"s":"80 mA","t":-20,"v":0},{"s":"80 mA","t":-17,"v":-0.01},{"s":"80 mA","t":-14,"v":-0.01},{"s":"80 mA","t":-11,"v":0},{"s":"80 mA","t":-8,"v":0},{"s":"80 mA","t":-5,"v":-0.01},{"s":"80 mA","t":-3,"v":0},{"s":"80 mA","t":-2,"v":0},
{"s":"80 mA","t":-1.7,"v":0},{"s":"80 mA","t":-1,"v":-0.01},{"s":"80 mA","t":-0.6,"v":0.08},{"s":"80 mA","t":-0.2,"v":0.33},{"s":"80 mA","t":0.35,"v":0.63},{"s":"80 mA","t":0.9,"v":0.92},{"s":"80 mA","t":1.4,"v":1},{"s":"80 mA","t":2,"v":0.86},{"s":"80 mA","t":2.6,"v":0.6},
{"s":"80 mA","t":3.1,"v":0.54},{"s":"80 mA","t":3.7,"v":0.565},{"s":"80 mA","t":4.9,"v":0.59},{"s":"80 mA","t":6.3,"v":0.58},{"s":"80 mA","t":7.7,"v":0.565},{"s":"80 mA","t":9.1,"v":0.545},{"s":"80 mA","t":10.5,"v":0.515},{"s":"80 mA","t":11.5,"v":0.545},{"s":"80 mA","t":12.6,"v":0.565},{"s":"80 mA","t":13.3,"v":0.515},{"s":"80 mA","t":14.1,"v":0.45},{"s":"80 mA","t":15,"v":0.445},{"s":"80 mA","t":15.4,"v":0.43},{"s":"80 mA","t":16.8,"v":0.4},{"s":"80 mA","t":18.2,"v":0.375},{"s":"80 mA","t":20,"v":0.345},
{"s":"100 mA","t":-20,"v":-0.01},{"s":"100 mA","t":-17,"v":0},{"s":"100 mA","t":-14,"v":0},{"s":"100 mA","t":-11,"v":0},{"s":"100 mA","t":-8,"v":-0.01},{"s":"100 mA","t":-5,"v":0},{"s":"100 mA","t":-3,"v":-0.01},{"s":"100 mA","t":-2,"v":-0.01},
{"s":"100 mA","t":-1.7,"v":0},{"s":"100 mA","t":-1,"v":-0.01},{"s":"100 mA","t":-0.6,"v":0.08},{"s":"100 mA","t":-0.2,"v":0.33},{"s":"100 mA","t":0.35,"v":0.63},{"s":"100 mA","t":0.9,"v":0.92},{"s":"100 mA","t":1.4,"v":1},{"s":"100 mA","t":2,"v":0.85},{"s":"100 mA","t":2.6,"v":0.56},
{"s":"100 mA","t":3.1,"v":0.48},{"s":"100 mA","t":3.7,"v":0.52},{"s":"100 mA","t":4.9,"v":0.545},{"s":"100 mA","t":6.3,"v":0.54},{"s":"100 mA","t":7.7,"v":0.52},{"s":"100 mA","t":9.1,"v":0.5},{"s":"100 mA","t":10.5,"v":0.465},{"s":"100 mA","t":11.5,"v":0.5},{"s":"100 mA","t":12.6,"v":0.515},{"s":"100 mA","t":13.3,"v":0.475},{"s":"100 mA","t":14.1,"v":0.4},{"s":"100 mA","t":15,"v":0.41},{"s":"100 mA","t":15.4,"v":0.39},{"s":"100 mA","t":16.8,"v":0.35},{"s":"100 mA","t":18.2,"v":0.32},{"s":"100 mA","t":20,"v":0.28},
{"s":"120 mA","t":-20,"v":0},{"s":"120 mA","t":-17,"v":-0.01},{"s":"120 mA","t":-14,"v":0},{"s":"120 mA","t":-11,"v":-0.01},{"s":"120 mA","t":-8,"v":0},{"s":"120 mA","t":-5,"v":0},{"s":"120 mA","t":-3,"v":-0.01},{"s":"120 mA","t":-2,"v":0},
{"s":"120 mA","t":-1.7,"v":0},{"s":"120 mA","t":-1,"v":-0.01},{"s":"120 mA","t":-0.6,"v":0.08},{"s":"120 mA","t":-0.2,"v":0.33},{"s":"120 mA","t":0.35,"v":0.63},{"s":"120 mA","t":0.9,"v":0.92},{"s":"120 mA","t":1.4,"v":1},{"s":"120 mA","t":2,"v":0.84},{"s":"120 mA","t":2.6,"v":0.545},
{"s":"120 mA","t":3.1,"v":0.465},{"s":"120 mA","t":3.7,"v":0.505},{"s":"120 mA","t":4.9,"v":0.52},{"s":"120 mA","t":6.3,"v":0.515},{"s":"120 mA","t":7.7,"v":0.5},{"s":"120 mA","t":9.1,"v":0.475},{"s":"120 mA","t":10.5,"v":0.435},{"s":"120 mA","t":11.5,"v":0.475},{"s":"120 mA","t":12.6,"v":0.49},{"s":"120 mA","t":13.3,"v":0.44},{"s":"120 mA","t":14.1,"v":0.37},{"s":"120 mA","t":15,"v":0.375},{"s":"120 mA","t":15.4,"v":0.36},{"s":"120 mA","t":16.8,"v":0.32},{"s":"120 mA","t":18.2,"v":0.285},{"s":"120 mA","t":20,"v":0.255}
],
"f": [
{"s":"10 mA","t":-20,"v":-0.02},{"s":"10 mA","t":-17,"v":-0.02},{"s":"10 mA","t":-14,"v":-0.01},{"s":"10 mA","t":-11,"v":-0.02},{"s":"10 mA","t":-8,"v":-0.01},{"s":"10 mA","t":-5,"v":-0.01},{"s":"10 mA","t":-3,"v":-0.01},{"s":"10 mA","t":-2,"v":-0.01},
{"s":"10 mA","t":-1.7,"v":0},{"s":"10 mA","t":-1,"v":0},{"s":"10 mA","t":-0.6,"v":0.02},{"s":"10 mA","t":-0.2,"v":0.25},{"s":"10 mA","t":0.35,"v":0.6},{"s":"10 mA","t":0.9,"v":0.89},{"s":"10 mA","t":1.4,"v":1},{"s":"10 mA","t":2,"v":0.9},{"s":"10 mA","t":2.4,"v":0.75},{"s":"10 mA","t":2.8,"v":0.56},
{"s":"10 mA","t":3.2,"v":0.58},{"s":"10 mA","t":3.6,"v":0.61},{"s":"10 mA","t":4.4,"v":0.64},{"s":"10 mA","t":5.1,"v":0.645},{"s":"10 mA","t":6.1,"v":0.645},{"s":"10 mA","t":7.5,"v":0.63},{"s":"10 mA","t":8.9,"v":0.635},{"s":"10 mA","t":10,"v":0.62},{"s":"10 mA","t":11.4,"v":0.655},{"s":"10 mA","t":12.2,"v":0.685},{"s":"10 mA","t":13.1,"v":0.62},{"s":"10 mA","t":14.2,"v":0.57},{"s":"10 mA","t":15.2,"v":0.585},{"s":"10 mA","t":16.1,"v":0.57},{"s":"10 mA","t":17.3,"v":0.555},{"s":"10 mA","t":18.7,"v":0.54},{"s":"10 mA","t":20,"v":0.535},
{"s":"20 mA","t":-20,"v":0},{"s":"20 mA","t":-17,"v":0.01},{"s":"20 mA","t":-14,"v":0},{"s":"20 mA","t":-11,"v":0},{"s":"20 mA","t":-8,"v":0.01},{"s":"20 mA","t":-5,"v":0},{"s":"20 mA","t":-3,"v":0},{"s":"20 mA","t":-2,"v":0.01},
{"s":"20 mA","t":-1.7,"v":0},{"s":"20 mA","t":-1,"v":0},{"s":"20 mA","t":-0.6,"v":0.02},{"s":"20 mA","t":-0.2,"v":0.25},{"s":"20 mA","t":0.35,"v":0.6},{"s":"20 mA","t":0.9,"v":0.89},{"s":"20 mA","t":1.4,"v":1},{"s":"20 mA","t":2,"v":0.9},{"s":"20 mA","t":2.4,"v":0.72},{"s":"20 mA","t":2.8,"v":0.5},
{"s":"20 mA","t":3.2,"v":0.4},{"s":"20 mA","t":3.6,"v":0.365},{"s":"20 mA","t":4.4,"v":0.43},{"s":"20 mA","t":5.1,"v":0.48},{"s":"20 mA","t":6.1,"v":0.45},{"s":"20 mA","t":7.5,"v":0.44},{"s":"20 mA","t":8.9,"v":0.425},{"s":"20 mA","t":10,"v":0.425},{"s":"20 mA","t":11.4,"v":0.455},{"s":"20 mA","t":12.2,"v":0.485},{"s":"20 mA","t":13.1,"v":0.4},{"s":"20 mA","t":14.2,"v":0.3},{"s":"20 mA","t":15.2,"v":0.325},{"s":"20 mA","t":16.1,"v":0.32},{"s":"20 mA","t":17.3,"v":0.295},{"s":"20 mA","t":18.7,"v":0.3},{"s":"20 mA","t":20,"v":0.28},
{"s":"40 mA","t":-20,"v":-0.01},{"s":"40 mA","t":-17,"v":0},{"s":"40 mA","t":-14,"v":-0.01},{"s":"40 mA","t":-11,"v":0},{"s":"40 mA","t":-8,"v":0},{"s":"40 mA","t":-5,"v":-0.01},{"s":"40 mA","t":-3,"v":0},{"s":"40 mA","t":-2,"v":0},
{"s":"40 mA","t":-1.7,"v":0},{"s":"40 mA","t":-1,"v":0},{"s":"40 mA","t":-0.6,"v":0.02},{"s":"40 mA","t":-0.2,"v":0.25},{"s":"40 mA","t":0.35,"v":0.6},{"s":"40 mA","t":0.9,"v":0.89},{"s":"40 mA","t":1.4,"v":1},{"s":"40 mA","t":2,"v":0.9},{"s":"40 mA","t":2.4,"v":0.72},{"s":"40 mA","t":2.8,"v":0.5},
{"s":"40 mA","t":3.2,"v":0.39},{"s":"40 mA","t":3.6,"v":0.35},{"s":"40 mA","t":4.4,"v":0.42},{"s":"40 mA","t":5.1,"v":0.47},{"s":"40 mA","t":6.1,"v":0.435},{"s":"40 mA","t":7.5,"v":0.43},{"s":"40 mA","t":8.9,"v":0.41},{"s":"40 mA","t":10,"v":0.41},{"s":"40 mA","t":11.4,"v":0.44},{"s":"40 mA","t":12.2,"v":0.47},{"s":"40 mA","t":13.1,"v":0.375},{"s":"40 mA","t":14.2,"v":0.28},{"s":"40 mA","t":15.2,"v":0.295},{"s":"40 mA","t":16.1,"v":0.285},{"s":"40 mA","t":17.3,"v":0.26},{"s":"40 mA","t":18.7,"v":0.26},{"s":"40 mA","t":20,"v":0.23},
{"s":"60 mA","t":-20,"v":0.01},{"s":"60 mA","t":-17,"v":0},{"s":"60 mA","t":-14,"v":0},{"s":"60 mA","t":-11,"v":0.01},{"s":"60 mA","t":-8,"v":0},{"s":"60 mA","t":-5,"v":0},{"s":"60 mA","t":-3,"v":0.01},{"s":"60 mA","t":-2,"v":0},
{"s":"60 mA","t":-1.7,"v":0},{"s":"60 mA","t":-1,"v":0},{"s":"60 mA","t":-0.6,"v":0.02},{"s":"60 mA","t":-0.2,"v":0.25},{"s":"60 mA","t":0.35,"v":0.6},{"s":"60 mA","t":0.9,"v":0.89},{"s":"60 mA","t":1.4,"v":1},{"s":"60 mA","t":2,"v":0.9},{"s":"60 mA","t":2.4,"v":0.7},{"s":"60 mA","t":2.8,"v":0.45},
{"s":"60 mA","t":3.2,"v":0.29},{"s":"60 mA","t":3.6,"v":0.27},{"s":"60 mA","t":4.4,"v":0.35},{"s":"60 mA","t":5.1,"v":0.385},{"s":"60 mA","t":6.1,"v":0.35},{"s":"60 mA","t":7.5,"v":0.345},{"s":"60 mA","t":8.9,"v":0.31},{"s":"60 mA","t":10,"v":0.32},{"s":"60 mA","t":11.4,"v":0.345},{"s":"60 mA","t":12.2,"v":0.365},{"s":"60 mA","t":13.1,"v":0.295},{"s":"60 mA","t":14.2,"v":0.205},{"s":"60 mA","t":15.2,"v":0.23},{"s":"60 mA","t":16.1,"v":0.215},{"s":"60 mA","t":17.3,"v":0.17},{"s":"60 mA","t":18.7,"v":0.19},{"s":"60 mA","t":20,"v":0.16},
{"s":"80 mA","t":-20,"v":0},{"s":"80 mA","t":-17,"v":-0.01},{"s":"80 mA","t":-14,"v":0},{"s":"80 mA","t":-11,"v":-0.01},{"s":"80 mA","t":-8,"v":0},{"s":"80 mA","t":-5,"v":0.01},{"s":"80 mA","t":-3,"v":0},{"s":"80 mA","t":-2,"v":0},
{"s":"80 mA","t":-1.7,"v":0},{"s":"80 mA","t":-1,"v":0},{"s":"80 mA","t":-0.6,"v":0.02},{"s":"80 mA","t":-0.2,"v":0.25},{"s":"80 mA","t":0.35,"v":0.6},{"s":"80 mA","t":0.9,"v":0.89},{"s":"80 mA","t":1.4,"v":1},{"s":"80 mA","t":2,"v":0.9},{"s":"80 mA","t":2.4,"v":0.7},{"s":"80 mA","t":2.8,"v":0.42},
{"s":"80 mA","t":3.2,"v":0.25},{"s":"80 mA","t":3.6,"v":0.24},{"s":"80 mA","t":4.4,"v":0.31},{"s":"80 mA","t":5.1,"v":0.34},{"s":"80 mA","t":6.1,"v":0.3},{"s":"80 mA","t":7.5,"v":0.295},{"s":"80 mA","t":8.9,"v":0.27},{"s":"80 mA","t":10,"v":0.275},{"s":"80 mA","t":11.4,"v":0.295},{"s":"80 mA","t":12.2,"v":0.32},{"s":"80 mA","t":13.1,"v":0.255},{"s":"80 mA","t":14.2,"v":0.165},{"s":"80 mA","t":15.2,"v":0.19},{"s":"80 mA","t":16.1,"v":0.17},{"s":"80 mA","t":17.3,"v":0.14},{"s":"80 mA","t":18.7,"v":0.15},{"s":"80 mA","t":20,"v":0.125},
{"s":"100 mA","t":-20,"v":-0.02},{"s":"100 mA","t":-17,"v":-0.01},{"s":"100 mA","t":-14,"v":-0.02},{"s":"100 mA","t":-11,"v":-0.02},{"s":"100 mA","t":-8,"v":-0.01},{"s":"100 mA","t":-5,"v":-0.02},{"s":"100 mA","t":-3,"v":-0.01},{"s":"100 mA","t":-2,"v":-0.01},
{"s":"100 mA","t":-1.7,"v":0},{"s":"100 mA","t":-1,"v":0},{"s":"100 mA","t":-0.6,"v":0.02},{"s":"100 mA","t":-0.2,"v":0.25},{"s":"100 mA","t":0.35,"v":0.6},{"s":"100 mA","t":0.9,"v":0.89},{"s":"100 mA","t":1.4,"v":1},{"s":"100 mA","t":2,"v":0.9},{"s":"100 mA","t":2.4,"v":0.68},{"s":"100 mA","t":2.8,"v":0.38},
{"s":"100 mA","t":3.2,"v":0.18},{"s":"100 mA","t":3.6,"v":0.2},{"s":"100 mA","t":4.4,"v":0.27},{"s":"100 mA","t":5.1,"v":0.295},{"s":"100 mA","t":6.1,"v":0.26},{"s":"100 mA","t":7.5,"v":0.255},{"s":"100 mA","t":8.9,"v":0.22},{"s":"100 mA","t":10,"v":0.23},{"s":"100 mA","t":11.4,"v":0.255},{"s":"100 mA","t":12.2,"v":0.27},{"s":"100 mA","t":13.1,"v":0.205},{"s":"100 mA","t":14.2,"v":0.125},{"s":"100 mA","t":15.2,"v":0.155},{"s":"100 mA","t":16.1,"v":0.125},{"s":"100 mA","t":17.3,"v":0.105},{"s":"100 mA","t":18.7,"v":0.125},{"s":"100 mA","t":20,"v":0.095}
]
},
"concat": [
{"width": 381, "height": 287, "title": "(a)", "layer": [
 {"data": {"name": "a"}, "mark": {"type": "line", "strokeWidth": 2.5, "clip": true},
  "encoding": {
   "x": {"field": "t", "type": "quantitative", "scale": {"domain": [-20, 20], "nice": false}, "axis": {"title": "Time (ns)", "values": [-20,-17.5,-15,-12.5,-10,-7.5,-5,-2.5,0,2.5,5,7.5,10,12.5,15,17.5,20], "labelExpr": "datum.value % 5 == 0 ? (datum.value < 0 ? '-' + abs(datum.value) : '' + datum.value) : ''", "tickSize": {"condition": {"test": "datum.value % 5 == 0", "value": -6}, "value": -3}}},
   "y": {"field": "v", "type": "quantitative", "scale": {"domain": [-0.2, 1.2], "nice": false}, "axis": {"title": "Normalized amplitude (a.u.)", "values": [-0.2,-0.1,0,0.1,0.2,0.3,0.4,0.5,0.6,0.7,0.8,0.9,1,1.1,1.2], "labelExpr": "round(datum.value*10) % 2 == 0 ? (datum.value < -0.01 ? '-' : '') + format(abs(datum.value), '.1f') : ''", "tickSize": {"condition": {"test": "round(datum.value*10) % 2 == 0", "value": -6}, "value": -3}}},
   "color": {"field": "s", "type": "nominal", "scale": {"domain": ["60 mA","80 mA","100 mA","120 mA","140 mA","160 mA","Tx"], "range": ["#800000","#8000FF","#0080FF","#008000","#FF8000","#FF0000","#808080"]}, "legend": {"title": null}},
   "strokeDash": {"field": "s", "type": "nominal", "scale": {"domain": ["60 mA","80 mA","100 mA","120 mA","140 mA","160 mA","Tx"], "range": [[1,0],[1,0],[1,0],[1,0],[1,0],[1,0],[6,3]]}, "legend": {"title": null}}
  }},
 {"data": {"name": "tx"}, "mark": {"type": "line", "strokeWidth": 2.5, "clip": true},
  "encoding": {"x": {"field": "t", "type": "quantitative"}, "y": {"field": "v", "type": "quantitative"}, "color": {"field": "s", "type": "nominal"}, "strokeDash": {"field": "s", "type": "nominal"}}},
 {"data": {"values": [{}]}, "mark": {"type": "rect", "fill": "black"}, "encoding": {"x": {"datum": 3.75}, "x2": {"datum": 19.85}, "y": {"datum": 1.025}, "y2": {"datum": 1.17}}},
 {"data": {"values": [{}]}, "mark": {"type": "rect", "fill": "white", "stroke": "black", "strokeWidth": 1.5}, "encoding": {"x": {"datum": 3.3}, "x2": {"datum": 19.4}, "y": {"datum": 1.045}, "y2": {"datum": 1.19}}},
 {"data": {"values": [{"label": "Sample A (0.6V)"}]}, "mark": {"type": "text", "font": "Liberation Serif", "fontSize": 20, "align": "center", "baseline": "middle", "color": "black"}, "encoding": {"x": {"datum": 11.35}, "y": {"datum": 1.117}, "text": {"field": "label"}}}
]},
{"width": 381, "height": 287, "title": "(b)", "layer": [
 {"data": {"name": "b"}, "mark": {"type": "line", "strokeWidth": 2.5, "clip": true},
  "encoding": {
   "x": {"field": "t", "type": "quantitative", "scale": {"domain": [-20, 20], "nice": false}, "axis": {"title": "Time (ns)", "values": [-20,-17.5,-15,-12.5,-10,-7.5,-5,-2.5,0,2.5,5,7.5,10,12.5,15,17.5,20], "labelExpr": "datum.value % 5 == 0 ? (datum.value < 0 ? '-' + abs(datum.value) : '' + datum.value) : ''", "tickSize": {"condition": {"test": "datum.value % 5 == 0", "value": -6}, "value": -3}}},
   "y": {"field": "v", "type": "quantitative", "scale": {"domain": [-0.2, 1.2], "nice": false}, "axis": {"title": "Normalized amplitude (a.u.)", "values": [-0.2,-0.1,0,0.1,0.2,0.3,0.4,0.5,0.6,0.7,0.8,0.9,1,1.1,1.2], "labelExpr": "round(datum.value*10) % 2 == 0 ? (datum.value < -0.01 ? '-' : '') + format(abs(datum.value), '.1f') : ''", "tickSize": {"condition": {"test": "round(datum.value*10) % 2 == 0", "value": -6}, "value": -3}}},
   "color": {"field": "s", "type": "nominal", "scale": {"domain": ["20 mA","40 mA","60 mA","80 mA","100 mA","120 mA","Tx"], "range": ["#800000","#8000FF","#0080FF","#008000","#FF8000","#FF0000","#808080"]}, "legend": {"title": null}},
   "strokeDash": {"field": "s", "type": "nominal", "scale": {"domain": ["20 mA","40 mA","60 mA","80 mA","100 mA","120 mA","Tx"], "range": [[1,0],[1,0],[1,0],[1,0],[1,0],[1,0],[6,3]]}, "legend": {"title": null}}
  }},
 {"data": {"name": "tx"}, "mark": {"type": "line", "strokeWidth": 2.5, "clip": true},
  "encoding": {"x": {"field": "t", "type": "quantitative"}, "y": {"field": "v", "type": "quantitative"}, "color": {"field": "s", "type": "nominal"}, "strokeDash": {"field": "s", "type": "nominal"}}},
 {"data": {"values": [{}]}, "mark": {"type": "rect", "fill": "black"}, "encoding": {"x": {"datum": 3.35}, "x2": {"datum": 19.55}, "y": {"datum": 1.015}, "y2": {"datum": 1.17}}},
 {"data": {"values": [{}]}, "mark": {"type": "rect", "fill": "white", "stroke": "black", "strokeWidth": 1.5}, "encoding": {"x": {"datum": 2.9}, "x2": {"datum": 19.1}, "y": {"datum": 1.035}, "y2": {"datum": 1.19}}},
 {"data": {"values": [{"label": "Sample B (0.6 V)"}]}, "mark": {"type": "text", "font": "Liberation Serif", "fontSize": 20, "align": "center", "baseline": "middle", "color": "black"}, "encoding": {"x": {"datum": 11}, "y": {"datum": 1.112}, "text": {"field": "label"}}}
]},
{"width": 381, "height": 287, "title": "(c)", "layer": [
 {"data": {"name": "c"}, "mark": {"type": "line", "strokeWidth": 2.5, "clip": true},
  "encoding": {
   "x": {"field": "t", "type": "quantitative", "scale": {"domain": [-20, 20], "nice": false}, "axis": {"title": "Time (ns)", "values": [-20,-17.5,-15,-12.5,-10,-7.5,-5,-2.5,0,2.5,5,7.5,10,12.5,15,17.5,20], "labelExpr": "datum.value % 5 == 0 ? (datum.value < 0 ? '-' + abs(datum.value) : '' + datum.value) : ''", "tickSize": {"condition": {"test": "datum.value % 5 == 0", "value": -6}, "value": -3}}},
   "y": {"field": "v", "type": "quantitative", "scale": {"domain": [-0.2, 1.2], "nice": false}, "axis": {"title": "Normalized amplitude (a.u.)", "values": [-0.2,-0.1,0,0.1,0.2,0.3,0.4,0.5,0.6,0.7,0.8,0.9,1,1.1,1.2], "labelExpr": "round(datum.value*10) % 2 == 0 ? (datum.value < -0.01 ? '-' : '') + format(abs(datum.value), '.1f') : ''", "tickSize": {"condition": {"test": "round(datum.value*10) % 2 == 0", "value": -6}, "value": -3}}},
   "color": {"field": "s", "type": "nominal", "scale": {"domain": ["10 mA","20 mA","40 mA","60 mA","80 mA","100 mA","Tx"], "range": ["#800000","#8000FF","#0080FF","#008000","#FF8000","#FF0000","#808080"]}, "legend": {"title": null}},
   "strokeDash": {"field": "s", "type": "nominal", "scale": {"domain": ["10 mA","20 mA","40 mA","60 mA","80 mA","100 mA","Tx"], "range": [[1,0],[1,0],[1,0],[1,0],[1,0],[1,0],[6,3]]}, "legend": {"title": null}}
  }},
 {"data": {"name": "tx"}, "mark": {"type": "line", "strokeWidth": 2.5, "clip": true},
  "encoding": {"x": {"field": "t", "type": "quantitative"}, "y": {"field": "v", "type": "quantitative"}, "color": {"field": "s", "type": "nominal"}, "strokeDash": {"field": "s", "type": "nominal"}}},
 {"data": {"values": [{}]}, "mark": {"type": "rect", "fill": "black"}, "encoding": {"x": {"datum": 3.75}, "x2": {"datum": 19.55}, "y": {"datum": 1.015}, "y2": {"datum": 1.17}}},
 {"data": {"values": [{}]}, "mark": {"type": "rect", "fill": "white", "stroke": "black", "strokeWidth": 1.5}, "encoding": {"x": {"datum": 3.3}, "x2": {"datum": 19.1}, "y": {"datum": 1.035}, "y2": {"datum": 1.19}}},
 {"data": {"values": [{"label": "Sample C (0.6 V)"}]}, "mark": {"type": "text", "font": "Liberation Serif", "fontSize": 20, "align": "center", "baseline": "middle", "color": "black"}, "encoding": {"x": {"datum": 11.2}, "y": {"datum": 1.112}, "text": {"field": "label"}}}
]},
{"width": 381, "height": 287, "title": "(d)", "layer": [
 {"data": {"name": "d"}, "mark": {"type": "line", "strokeWidth": 2.5, "clip": true},
  "encoding": {
   "x": {"field": "t", "type": "quantitative", "scale": {"domain": [-20, 20], "nice": false}, "axis": {"title": "Time (ns)", "values": [-20,-17.5,-15,-12.5,-10,-7.5,-5,-2.5,0,2.5,5,7.5,10,12.5,15,17.5,20], "labelExpr": "datum.value % 5 == 0 ? (datum.value < 0 ? '-' + abs(datum.value) : '' + datum.value) : ''", "tickSize": {"condition": {"test": "datum.value % 5 == 0", "value": -6}, "value": -3}}},
   "y": {"field": "v", "type": "quantitative", "scale": {"domain": [-0.2, 1.2], "nice": false}, "axis": {"title": "Normalized amplitude (a.u.)", "values": [-0.2,-0.1,0,0.1,0.2,0.3,0.4,0.5,0.6,0.7,0.8,0.9,1,1.1,1.2], "labelExpr": "round(datum.value*10) % 2 == 0 ? (datum.value < -0.01 ? '-' : '') + format(abs(datum.value), '.1f') : ''", "tickSize": {"condition": {"test": "round(datum.value*10) % 2 == 0", "value": -6}, "value": -3}}},
   "color": {"field": "s", "type": "nominal", "scale": {"domain": ["60 mA","80 mA","100 mA","120 mA","140 mA","160 mA","Tx"], "range": ["#800000","#8000FF","#0080FF","#008000","#FF8000","#FF0000","#808080"]}, "legend": {"title": null}},
   "strokeDash": {"field": "s", "type": "nominal", "scale": {"domain": ["60 mA","80 mA","100 mA","120 mA","140 mA","160 mA","Tx"], "range": [[1,0],[1,0],[1,0],[1,0],[1,0],[1,0],[6,3]]}, "legend": {"title": null}}
  }},
 {"data": {"name": "tx"}, "mark": {"type": "line", "strokeWidth": 2.5, "clip": true},
  "encoding": {"x": {"field": "t", "type": "quantitative"}, "y": {"field": "v", "type": "quantitative"}, "color": {"field": "s", "type": "nominal"}, "strokeDash": {"field": "s", "type": "nominal"}}},
 {"data": {"values": [{}]}, "mark": {"type": "rect", "fill": "black"}, "encoding": {"x": {"datum": 3.25}, "x2": {"datum": 19.55}, "y": {"datum": 1.015}, "y2": {"datum": 1.17}}},
 {"data": {"values": [{}]}, "mark": {"type": "rect", "fill": "white", "stroke": "black", "strokeWidth": 1.5}, "encoding": {"x": {"datum": 2.8}, "x2": {"datum": 19.1}, "y": {"datum": 1.035}, "y2": {"datum": 1.19}}},
 {"data": {"values": [{"label": "Sample A (1.2 V)"}]}, "mark": {"type": "text", "font": "Liberation Serif", "fontSize": 20, "align": "center", "baseline": "middle", "color": "black"}, "encoding": {"x": {"datum": 10.95}, "y": {"datum": 1.112}, "text": {"field": "label"}}}
]},
{"width": 381, "height": 287, "title": "(e)", "layer": [
 {"data": {"name": "e"}, "mark": {"type": "line", "strokeWidth": 2.5, "clip": true},
  "encoding": {
   "x": {"field": "t", "type": "quantitative", "scale": {"domain": [-20, 20], "nice": false}, "axis": {"title": "Time (ns)", "values": [-20,-17.5,-15,-12.5,-10,-7.5,-5,-2.5,0,2.5,5,7.5,10,12.5,15,17.5,20], "labelExpr": "datum.value % 5 == 0 ? (datum.value < 0 ? '-' + abs(datum.value) : '' + datum.value) : ''", "tickSize": {"condition": {"test": "datum.value % 5 == 0", "value": -6}, "value": -3}}},
   "y": {"field": "v", "type": "quantitative", "scale": {"domain": [-0.2, 1.2], "nice": false}, "axis": {"title": "Normalized amplitude (a.u.)", "values": [-0.2,-0.1,0,0.1,0.2,0.3,0.4,0.5,0.6,0.7,0.8,0.9,1,1.1,1.2], "labelExpr": "round(datum.value*10) % 2 == 0 ? (datum.value < -0.01 ? '-' : '') + format(abs(datum.value), '.1f') : ''", "tickSize": {"condition": {"test": "round(datum.value*10) % 2 == 0", "value": -6}, "value": -3}}},
   "color": {"field": "s", "type": "nominal", "scale": {"domain": ["20 mA","40 mA","60 mA","80 mA","100 mA","120 mA","Tx"], "range": ["#800000","#8000FF","#0080FF","#008000","#FF8000","#FF0000","#808080"]}, "legend": {"title": null}},
   "strokeDash": {"field": "s", "type": "nominal", "scale": {"domain": ["20 mA","40 mA","60 mA","80 mA","100 mA","120 mA","Tx"], "range": [[1,0],[1,0],[1,0],[1,0],[1,0],[1,0],[6,3]]}, "legend": {"title": null}}
  }},
 {"data": {"name": "tx"}, "mark": {"type": "line", "strokeWidth": 2.5, "clip": true},
  "encoding": {"x": {"field": "t", "type": "quantitative"}, "y": {"field": "v", "type": "quantitative"}, "color": {"field": "s", "type": "nominal"}, "strokeDash": {"field": "s", "type": "nominal"}}},
 {"data": {"values": [{}]}, "mark": {"type": "rect", "fill": "black"}, "encoding": {"x": {"datum": 3.45}, "x2": {"datum": 19.65}, "y": {"datum": 1.015}, "y2": {"datum": 1.17}}},
 {"data": {"values": [{}]}, "mark": {"type": "rect", "fill": "white", "stroke": "black", "strokeWidth": 1.5}, "encoding": {"x": {"datum": 3}, "x2": {"datum": 19.2}, "y": {"datum": 1.035}, "y2": {"datum": 1.19}}},
 {"data": {"values": [{"label": "Sample B (1.2 V)"}]}, "mark": {"type": "text", "font": "Liberation Serif", "fontSize": 20, "align": "center", "baseline": "middle", "color": "black"}, "encoding": {"x": {"datum": 11.1}, "y": {"datum": 1.112}, "text": {"field": "label"}}}
]},
{"width": 381, "height": 287, "title": "(f)", "layer": [
 {"data": {"name": "f"}, "mark": {"type": "line", "strokeWidth": 2.5, "clip": true},
  "encoding": {
   "x": {"field": "t", "type": "quantitative", "scale": {"domain": [-20, 20], "nice": false}, "axis": {"title": "Time (ns)", "values": [-20,-17.5,-15,-12.5,-10,-7.5,-5,-2.5,0,2.5,5,7.5,10,12.5,15,17.5,20], "labelExpr": "datum.value % 5 == 0 ? (datum.value < 0 ? '-' + abs(datum.value) : '' + datum.value) : ''", "tickSize": {"condition": {"test": "datum.value % 5 == 0", "value": -6}, "value": -3}}},
   "y": {"field": "v", "type": "quantitative", "scale": {"domain": [-0.2, 1.2], "nice": false}, "axis": {"title": "Normalized amplitude (a.u.)", "values": [-0.2,-0.1,0,0.1,0.2,0.3,0.4,0.5,0.6,0.7,0.8,0.9,1,1.1,1.2], "labelExpr": "round(datum.value*10) % 2 == 0 ? (datum.value < -0.01 ? '-' : '') + format(abs(datum.value), '.1f') : ''", "tickSize": {"condition": {"test": "round(datum.value*10) % 2 == 0", "value": -6}, "value": -3}}},
   "color": {"field": "s", "type": "nominal", "scale": {"domain": ["10 mA","20 mA","40 mA","60 mA","80 mA","100 mA","Tx"], "range": ["#800000","#8000FF","#0080FF","#008000","#FF8000","#FF0000","#808080"]}, "legend": {"title": null}},
   "strokeDash": {"field": "s", "type": "nominal", "scale": {"domain": ["10 mA","20 mA","40 mA","60 mA","80 mA","100 mA","Tx"], "range": [[1,0],[1,0],[1,0],[1,0],[1,0],[1,0],[6,3]]}, "legend": {"title": null}}
  }},
 {"data": {"name": "tx"}, "mark": {"type": "line", "strokeWidth": 2.5, "clip": true},
  "encoding": {"x": {"field": "t", "type": "quantitative"}, "y": {"field": "v", "type": "quantitative"}, "color": {"field": "s", "type": "nominal"}, "strokeDash": {"field": "s", "type": "nominal"}}},
 {"data": {"values": [{}]}, "mark": {"type": "rect", "fill": "black"}, "encoding": {"x": {"datum": 3.05}, "x2": {"datum": 19.55}, "y": {"datum": 1.015}, "y2": {"datum": 1.17}}},
 {"data": {"values": [{}]}, "mark": {"type": "rect", "fill": "white", "stroke": "black", "strokeWidth": 1.5}, "encoding": {"x": {"datum": 2.6}, "x2": {"datum": 19.1}, "y": {"datum": 1.035}, "y2": {"datum": 1.19}}},
 {"data": {"values": [{"label": "Sample C (1.2 V)"}]}, "mark": {"type": "text", "font": "Liberation Serif", "fontSize": 20, "align": "center", "baseline": "middle", "color": "black"}, "encoding": {"x": {"datum": 10.85}, "y": {"datum": 1.112}, "text": {"field": "label"}}}
]}
],
"columns": 3,
"spacing": {"row": 112, "column": 116},
"bounds": "flush",
"resolve": {"scale": {"color": "independent", "strokeDash": "independent"}, "legend": {"color": "independent", "strokeDash": "independent"}},
"config": {
 "view": {"stroke": "black", "strokeWidth": 1.5},
 "font": "Liberation Serif",
 "axis": {"domain": false, "grid": false, "labelFont": "Liberation Serif", "labelFontWeight": "bold", "labelFontSize": 18, "labelColor": "black", "labelFlush": false, "labelOverlap": false, "labelPadding": 8, "titleFont": "Liberation Serif", "titleFontWeight": "bold", "titleFontSize": 23, "titleColor": "black", "tickColor": "black", "tickWidth": 1.5},
 "axisX": {"titlePadding": 10, "labelPadding": 15},
 "axisY": {"titlePadding": 6},
 "legend": {"orient": "top-left", "offset": 8, "strokeColor": "black", "strokeWidth": 1.5, "fillColor": "white", "padding": 5, "labelFont": "Liberation Serif", "labelFontSize": 23, "labelColor": "black", "symbolType": "stroke", "symbolSize": 3136, "symbolStrokeWidth": 3, "clipHeight": 20, "rowPadding": 6, "labelOffset": 4, "labelLimit": 200},
 "title": {"orient": "bottom", "anchor": "start", "frame": "bounds", "font": "Liberation Serif", "fontSize": 32, "fontWeight": "bold", "color": "black", "offset": -28, "dx": -8}
}
}
